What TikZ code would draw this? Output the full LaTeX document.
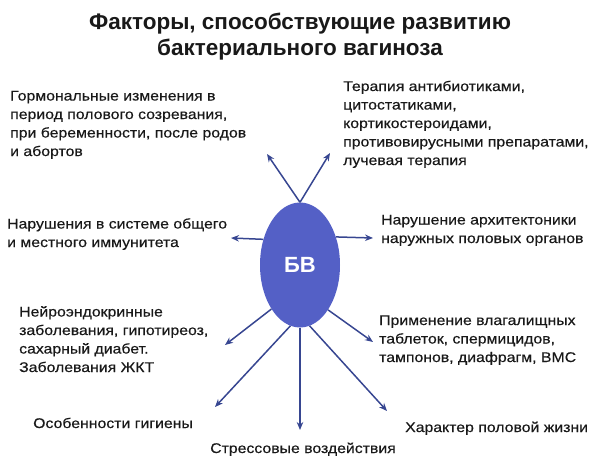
\documentclass[tikz,border=0pt]{standalone}
\usepackage{fontspec}
\setmainfont{Liberation Sans}
\newfontfamily\factorfont[FakeStretch=1.13,FakeBold=0.4]{Liberation Sans}
\usetikzlibrary{shapes.geometric,arrows.meta}
\definecolor{bvfill}{RGB}{84,96,198}
\definecolor{bvline}{RGB}{55,70,145}
\definecolor{bvtext}{RGB}{25,25,25}
\tikzset{
  factor/.style={anchor=base west, align=left, inner sep=0pt, text=bvtext,
    font=\factorfont\fontsize{14}{18.5}\selectfont},
  ray/.style={draw=bvline, line width=1.5pt, -{Stealth[length=8pt,width=6.5pt]}}
}
% #2,#3 = left end of the last line's baseline
\newcommand{\factor}[4]{\node[factor] (#1) at (#2,#3) {#4};}
\newcommand{\ray}[4]{\coordinate (#1) at (#3,#4); \draw[ray] (bv.#2) -- (#1);}

\begin{document}
\begin{tikzpicture}[x=1pt,y=-1pt]
    \useasboundingbox (0,0) rectangle (600,469);
    % title
    \node[anchor=base, align=center, inner sep=0pt, text=bvtext,
      font=\fontsize{22.5}{26}\selectfont\bfseries] (title) at (300,55)
      {Факторы, способствующие развитию\\бактериального вагиноза};
    % centre
    \node[ellipse, fill=bvfill, minimum width=80pt, minimum height=125pt, inner sep=0pt,
      text=white, font=\fontsize{22}{26}\selectfont\bfseries] (bv) at (300,265) {БВ};
    % factors
    \factor{hormon}{10}{156}{Гормональные изменения в\\период полового созревания,\\при беременности, после родов\\и абортов}
    \factor{therapy}{343}{165}{Терапия антибиотиками,\\цитостатиками,\\кортикостероидами,\\противовирусными препаратами,\\лучевая терапия}
    \factor{immun}{7}{247}{Нарушения в системе общего\\и местного иммунитета}
    \factor{archi}{381}{243}{Нарушение архитектоники\\наружных половых органов}
    \factor{neuro}{19}{372}{Нейроэндокринные\\заболевания, гипотиреоз,\\сахарный диабет.\\Заболевания ЖКТ}
    \factor{tablet}{379}{362}{Применение влагалищных\\таблеток, спермицидов,\\тампонов, диафрагм, ВМС}
    \factor{hygiene}{33}{428}{Особенности гигиены}
    \factor{sexlife}{405}{432}{Характер половой жизни}
    \factor{stress}{210}{453}{Стрессовые воздействия}
    % rays
    \ray{thormon}{north}{267}{154}
    \ray{ttherapy}{north}{330}{153}
    \ray{timmun}{145}{231}{238}
    \ray{tarchi}{38}{373}{238}
    \ray{tneuro}{237}{225}{345}
    \ray{thygiene}{261}{215}{407}
    \ray{tstress}{south}{300}{430}
    \ray{tsexlife}{279}{387}{411}
    \ray{ttablet}{302}{373}{342}
\end{tikzpicture}
\end{document}
